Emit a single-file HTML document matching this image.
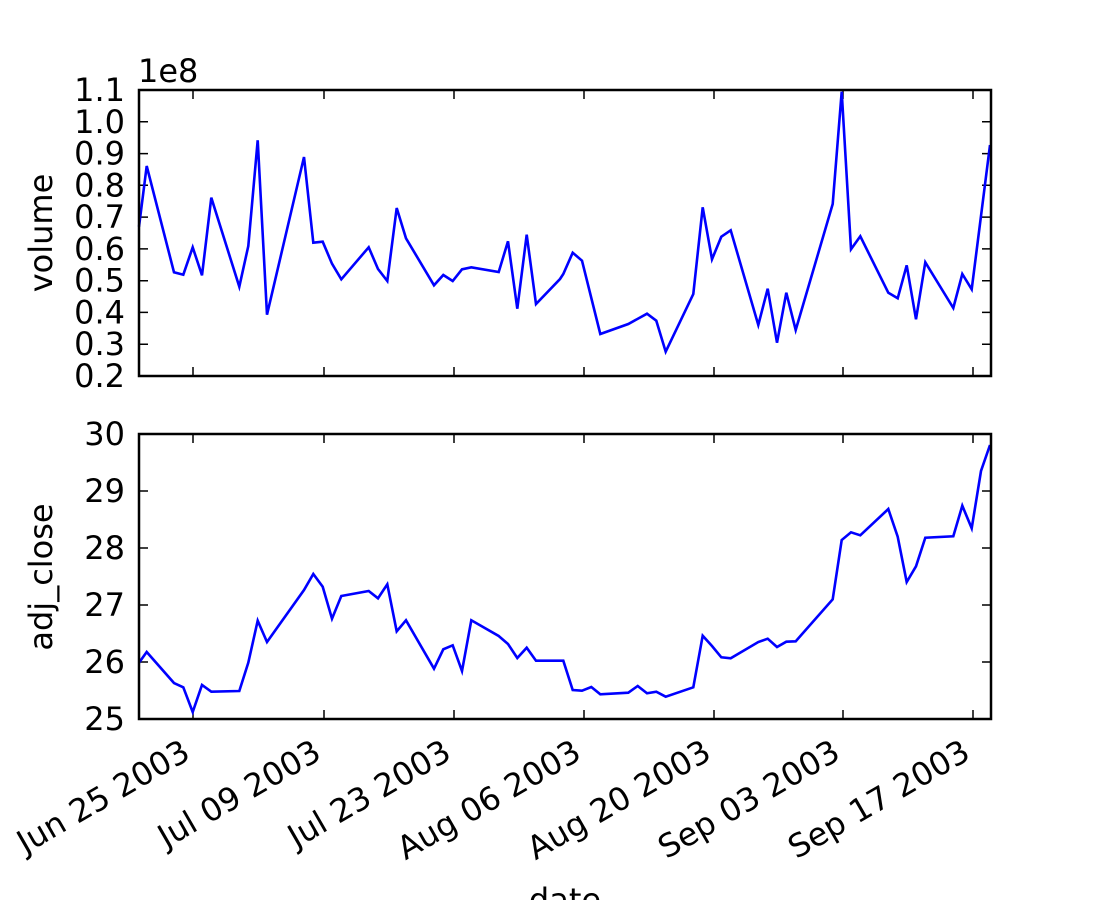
<!DOCTYPE html>
<html><head><meta charset="utf-8"><style>body{margin:0;background:#fff}svg{display:block}svg text{font-family:"DejaVu Sans","Liberation Sans",sans-serif;font-size:32px;fill:#000}</style></head><body>
<svg width="1100" height="900" xmlns="http://www.w3.org/2000/svg">
<rect width="1100" height="900" fill="#fff"/>
<g stroke="#000" stroke-width="1.5">
<path d="M193,90v9M324,90v9M454,90v9M584,90v9M714,90v9M843,90v9M973,90v9M193,376v-9M324,376v-9M454,376v-9M584,376v-9M714,376v-9M843,376v-9M973,376v-9"/>
<path d="M139,121.8h9M139,153.6h9M139,185.3h9M139,217.1h9M139,248.9h9M139,280.7h9M139,312.4h9M139,344.2h9M991,121.8h-9M991,153.6h-9M991,185.3h-9M991,217.1h-9M991,248.9h-9M991,280.7h-9M991,312.4h-9M991,344.2h-9"/>
<path d="M193,434v9M324,434v9M454,434v9M584,434v9M714,434v9M843,434v9M973,434v9M193,719v-9M324,719v-9M454,719v-9M584,719v-9M714,719v-9M843,719v-9M973,719v-9"/>
<path d="M139,491h9M139,548h9M139,605h9M139,662h9M991,491h-9M991,548h-9M991,605h-9M991,662h-9"/>
</g>
<g fill="none" stroke="#0000ff" stroke-width="2.6" stroke-linejoin="miter">
<polyline points="139,226.7 146.7,166 174,272.3 183.3,274.7 192.7,247.3 202,275.3 211.3,197.7 239.3,286.7 248.3,246 257.7,140.3 267,314.7 304,157 313.3,242.7 322.7,241.7 332,263.7 341.3,279.3 368.7,247.3 378,269 387.3,281 396.7,208 406,238.3 434,285.3 443.3,275 452.7,281 462,269.3 471.3,267.3 498.7,272 508,241.3 517.3,308.7 526.7,234.7 536,304 560,279 563.3,274 572.7,252.7 582,260.7 600.3,334 628.3,324 647,313.7 656.3,320.7 665.7,351.7 693.3,294 702.7,207.3 712,259.3 721.3,236.7 730.7,230.3 758.3,325 767.7,288.7 777,342.7 786.3,292.7 795.7,330 832.7,204 841.7,91.7 851,249.3 860.3,236.3 888.3,292.7 897.7,298.3 906.7,265.3 916,319.3 925.3,262.3 953.3,308 962.3,274 971.7,289.3 990,145"/>
<polyline points="139,662.7 146.7,652 174,683 183.3,687.3 192.7,712 202,685 211.3,691.7 239.3,691 248.3,662.7 257.7,620.7 267,642 304,590 313.3,574 322.7,586.7 332,618.7 341.3,596 368.7,591 378,598.3 387.3,584.3 396.7,631.3 406,620.3 434,668.7 443.3,649.3 452.7,645.3 462,671 471.3,620.3 498.7,636 508,644 517.3,658 526.7,647.7 536,660.7 563.3,660.7 572.7,690 582,690.7 591.3,687 600.3,694.3 628.3,692.7 637.7,686 647,693.3 656.3,691.7 665.7,696.7 693.3,687.3 702.7,635.7 712,646 721.3,657.3 730.7,658.3 758.3,642 767.7,638.7 777,647 786.3,641.7 795.7,641.3 832.7,599.3 841.7,540 851,532.3 860.3,535.3 888.3,509 897.7,536.7 906.7,582 916,566.3 925.3,537.7 953.3,536.3 962.3,505.7 971.7,528.3 981,471 990,445"/>
</g>
<g fill="none" stroke="#000" stroke-width="2.5">
<rect x="139" y="90" width="852" height="286"/>
<rect x="139" y="434" width="852" height="285"/>
</g>
<g text-anchor="end">
<text x="125" y="101">1.1</text><text x="125" y="132.8">1.0</text><text x="125" y="164.6">0.9</text><text x="125" y="196.3">0.8</text><text x="125" y="228.1">0.7</text><text x="125" y="259.9">0.6</text><text x="125" y="291.7">0.5</text><text x="125" y="323.4">0.4</text><text x="125" y="355.2">0.3</text><text x="125" y="387">0.2</text>
<text x="125" y="445">30</text><text x="125" y="502">29</text><text x="125" y="559">28</text><text x="125" y="616">27</text><text x="125" y="673">26</text><text x="125" y="730">25</text>
</g>
<text x="138" y="82">1e8</text>
<text transform="translate(52,233) rotate(-90)" text-anchor="middle">volume</text>
<text transform="translate(52,577) rotate(-90)" text-anchor="middle">adj_close</text>
<g text-anchor="end">
<text transform="translate(192,758) rotate(-30)">Jun 25 2003</text>
<text transform="translate(323,758) rotate(-30)">Jul 09 2003</text>
<text transform="translate(453,758) rotate(-30)">Jul 23 2003</text>
<text transform="translate(583,758) rotate(-30)">Aug 06 2003</text>
<text transform="translate(713,758) rotate(-30)">Aug 20 2003</text>
<text transform="translate(842,758) rotate(-30)">Sep 03 2003</text>
<text transform="translate(972,758) rotate(-30)">Sep 17 2003</text>
</g>
<text x="565" y="911" text-anchor="middle">date</text>
</svg>
</body></html>
